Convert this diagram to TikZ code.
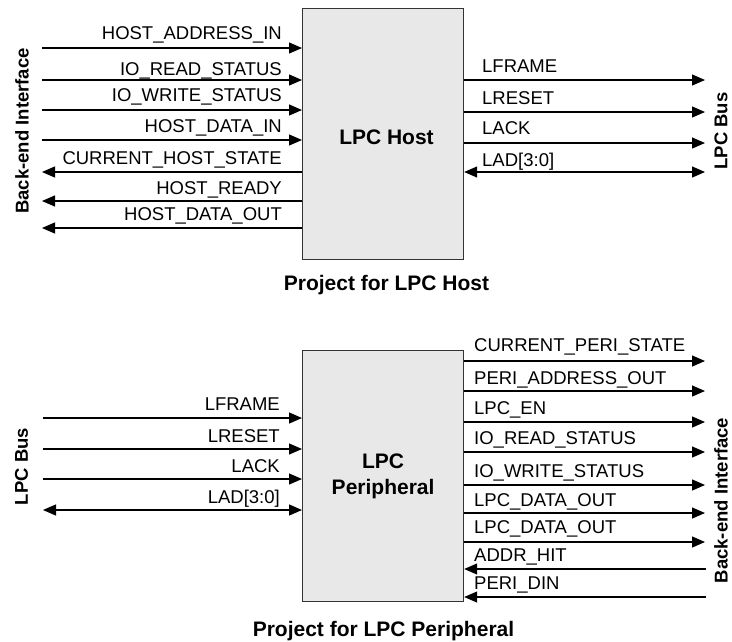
\documentclass[tikz,border=0pt]{standalone}
\usepackage{fontspec}
\setmainfont{Liberation Sans}
\usetikzlibrary{arrows.meta}

\tikzset{
  block/.style={draw=black!80, fill=black!9, line width=1.2pt, inner sep=0pt},
  sig/.style={line width=1.2pt, -{Triangle[length=13pt,width=11pt]}},
  bidir/.style={line width=1.2pt, {Triangle[length=13pt,width=11pt]}-{Triangle[length=13pt,width=11pt]}},
  lbl/.style={font=\fontsize{18.5}{22}\selectfont, inner sep=0pt},
  side/.style={font=\bfseries\fontsize{18.5}{22}\selectfont, rotate=90, inner sep=0pt},
  title/.style={font=\bfseries\fontsize{21}{26}\selectfont, inner sep=0pt, align=center},
}

\begin{document}
\begin{tikzpicture}[x=1pt, y=-1pt]
\useasboundingbox (0,0) rectangle (732,641);

% ---------------- LPC host ----------------
\node[block, minimum width=161pt, minimum height=251pt, anchor=north west] (host) at (302,8) {};
\node[title] (host-name) at (386.5,137.5) {LPC Host};
\node[title, anchor=base] (host-caption) at (386.5,290.7) {Project for LPC Host};

% back-end side
\coordinate (ha) at (42,48);
\coordinate (hb) at (42,80);
\coordinate (hc) at (42,110);
\coordinate (hd) at (42,140);
\coordinate (he) at (42,172);
\coordinate (hf) at (42,201);
\coordinate (hg) at (42,228);
\draw[sig] (ha) -- (ha -| host.west);
\draw[sig] (hb) -- (hb -| host.west);
\draw[sig] (hc) -- (hc -| host.west);
\draw[sig] (hd) -- (hd -| host.west);
\draw[sig] (he -| host.west) -- (he);
\draw[sig] (hf -| host.west) -- (hf);
\draw[sig] (hg -| host.west) -- (hg);
\node[lbl, anchor=base east] (l-ha) at (282,39.3) {HOST\_ADDRESS\_IN};
\node[lbl, anchor=base east] (l-hb) at (282,75.7) {IO\_READ\_STATUS};
\node[lbl, anchor=base east] (l-hc) at (282,101.7) {IO\_WRITE\_STATUS};
\node[lbl, anchor=base east] (l-hd) at (282,132.3) {HOST\_DATA\_IN};
\node[lbl, anchor=base east] (l-he) at (282,164) {CURRENT\_HOST\_STATE};
\node[lbl, anchor=base east] (l-hf) at (282,194) {HOST\_READY};
\node[lbl, anchor=base east] (l-hg) at (282,220.7) {HOST\_DATA\_OUT};
\node[side] (host-backend) at (22,131) {Back-end Interface};

% LPC bus side
\coordinate (hr1) at (705,80);
\coordinate (hr2) at (705,112);
\coordinate (hr3) at (705,143);
\coordinate (hr4) at (705,172);
\draw[sig] (hr1 -| host.east) -- (hr1);
\draw[sig] (hr2 -| host.east) -- (hr2);
\draw[sig] (hr3 -| host.east) -- (hr3);
\draw[bidir] (hr4 -| host.east) -- (hr4);
\node[lbl, anchor=base west] (l-hr1) at (482,72.7) {LFRAME};
\node[lbl, anchor=base west] (l-hr2) at (482,104) {LRESET};
\node[lbl, anchor=base west] (l-hr3) at (482,134.3) {LACK};
\node[lbl, anchor=base west] (l-hr4) at (482,166.7) {LAD[3:0]};
\node[side] (host-bus) at (721,131) {LPC Bus};

% ---------------- LPC peripheral ----------------
\node[block, title, minimum width=161pt, minimum height=251pt, anchor=north west] (peri) at (302,350) {LPC\\Peripheral};
\node[title, anchor=base] (peri-caption) at (383.5,636) {Project for LPC Peripheral};

% LPC bus side
\coordinate (pa) at (43,418);
\coordinate (pb) at (43,449);
\coordinate (pc) at (43,479);
\coordinate (pd) at (43,510);
\draw[sig] (pa) -- (pa -| peri.west);
\draw[sig] (pb) -- (pb -| peri.west);
\draw[sig] (pc) -- (pc -| peri.west);
\draw[bidir] (pd) -- (pd -| peri.west);
\node[lbl, anchor=base east] (l-pa) at (280,410) {LFRAME};
\node[lbl, anchor=base east] (l-pb) at (280,442) {LRESET};
\node[lbl, anchor=base east] (l-pc) at (280,472) {LACK};
\node[lbl, anchor=base east] (l-pd) at (280,503) {LAD[3:0]};
\node[side] (peri-bus) at (21.5,466.5) {LPC Bus};

% back-end side
\coordinate (pr1) at (705,361);
\coordinate (pr2) at (705,391);
\coordinate (pr3) at (705,422);
\coordinate (pr4) at (705,452);
\coordinate (pr5) at (705,485);
\coordinate (pr6) at (705,513);
\coordinate (pr7) at (705,542);
\coordinate (pr8) at (706,569);
\coordinate (pr9) at (706,597);
\draw[sig] (pr1 -| peri.east) -- (pr1);
\draw[sig] (pr2 -| peri.east) -- (pr2);
\draw[sig] (pr3 -| peri.east) -- (pr3);
\draw[sig] (pr4 -| peri.east) -- (pr4);
\draw[sig] (pr5 -| peri.east) -- (pr5);
\draw[sig] (pr6 -| peri.east) -- (pr6);
\draw[sig] (pr7 -| peri.east) -- (pr7);
\draw[sig] (pr8) -- (pr8 -| peri.east);
\draw[sig] (pr9) -- (pr9 -| peri.east);
\node[lbl, anchor=base west] (l-pr1) at (474,351.7) {CURRENT\_PERI\_STATE};
\node[lbl, anchor=base west] (l-pr2) at (474,384) {PERI\_ADDRESS\_OUT};
\node[lbl, anchor=base west] (l-pr3) at (474,414.3) {LPC\_EN};
\node[lbl, anchor=base west] (l-pr4) at (474,444) {IO\_READ\_STATUS};
\node[lbl, anchor=base west] (l-pr5) at (474,477.7) {IO\_WRITE\_STATUS};
\node[lbl, anchor=base west] (l-pr6) at (474,506) {LPC\_DATA\_OUT};
\node[lbl, anchor=base west] (l-pr7) at (474,533.3) {LPC\_DATA\_OUT};
\node[lbl, anchor=base west] (l-pr8) at (474,561) {ADDR\_HIT};
\node[lbl, anchor=base west] (l-pr9) at (474,589.3) {PERI\_DIN};
\node[side] (peri-backend) at (721,500.5) {Back-end Interface};
\end{tikzpicture}
\end{document}
